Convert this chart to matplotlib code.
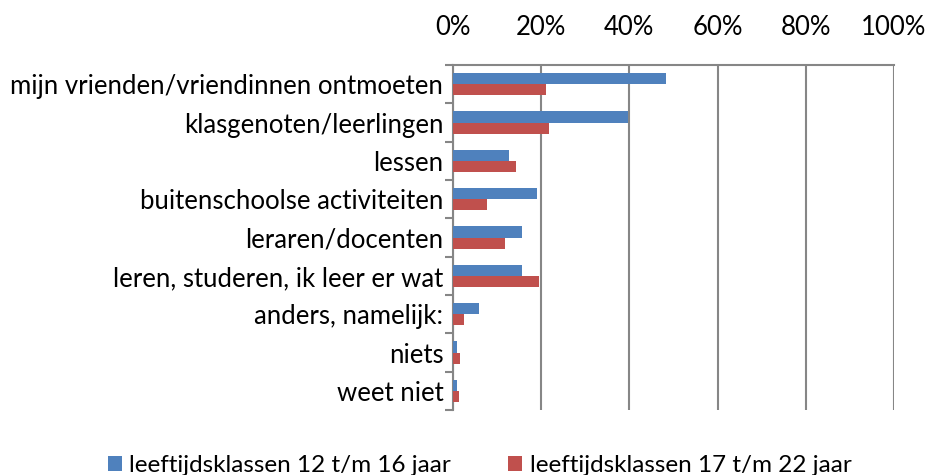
import numpy as np
import matplotlib.pyplot as plt
from matplotlib.ticker import PercentFormatter

categorieen = [
    "mijn vrienden/vriendinnen ontmoeten",
    "klasgenoten/leerlingen",
    "lessen",
    "buitenschoolse activiteiten",
    "leraren/docenten",
    "leren, studeren, ik leer er wat",
    "anders, namelijk:",
    "niets",
    "weet niet",
]
jong = [48.3, 39.6, 12.8, 19.0, 15.6, 15.6, 5.9, 0.9, 0.9]
oud = [21.0, 21.7, 14.3, 7.8, 11.7, 19.5, 2.6, 1.7, 1.3]
series_namen = ["leeftijdsklassen 12 t/m 16 jaar", "leeftijdsklassen 17 t/m 22 jaar"]

plt.rcParams['font.family'] = ['Lato', 'DejaVu Sans']
blauw = '#4f81bd'
rood = '#c0504d'
grijs = '#868686'

fig = plt.figure(figsize=(9.26, 4.75), dpi=100)
ax = fig.add_axes([0.4892, 0.1368, 0.4762, 0.7263])

y = np.arange(len(categorieen))
h = 0.29
ax.barh(y - h / 2, jong, height=h, color=blauw, label=series_namen[0], zorder=3)
ax.barh(y + h / 2, oud, height=h, color=rood, label=series_namen[1], zorder=3)

ax.set_xlim(0, 100)
ax.set_ylim(len(categorieen) - 0.5, -0.5)
ax.xaxis.set_major_formatter(PercentFormatter(decimals=0))
ax.set_xticks(range(0, 101, 20))
ax.xaxis.tick_top()
ax.grid(axis='x', color=grijs, linewidth=1.5, zorder=0)

ax.set_yticks(y)
ax.set_yticklabels(categorieen)
ax.set_yticks(np.arange(-0.5, len(categorieen) + 0.5, 1), minor=True)
ax.tick_params(axis='y', which='major', length=0, pad=7, labelsize=18.5)
ax.tick_params(axis='y', which='minor', length=6, width=1.5, color=grijs)
ax.tick_params(axis='x', length=0, pad=18, labelsize=18.5)

for kant in ['right', 'bottom']:
    ax.spines[kant].set_visible(False)
for kant in ['left', 'top']:
    ax.spines[kant].set_color(grijs)
    ax.spines[kant].set_linewidth(1.5)

fig.legend(loc='lower center', bbox_to_anchor=(0.518, -0.048), ncol=2, frameon=False,
           fontsize=17.5, handlelength=0.58, handleheight=0.58, handletextpad=0.3,
           columnspacing=2.35)

fig.savefig('out.png', dpi=100)
